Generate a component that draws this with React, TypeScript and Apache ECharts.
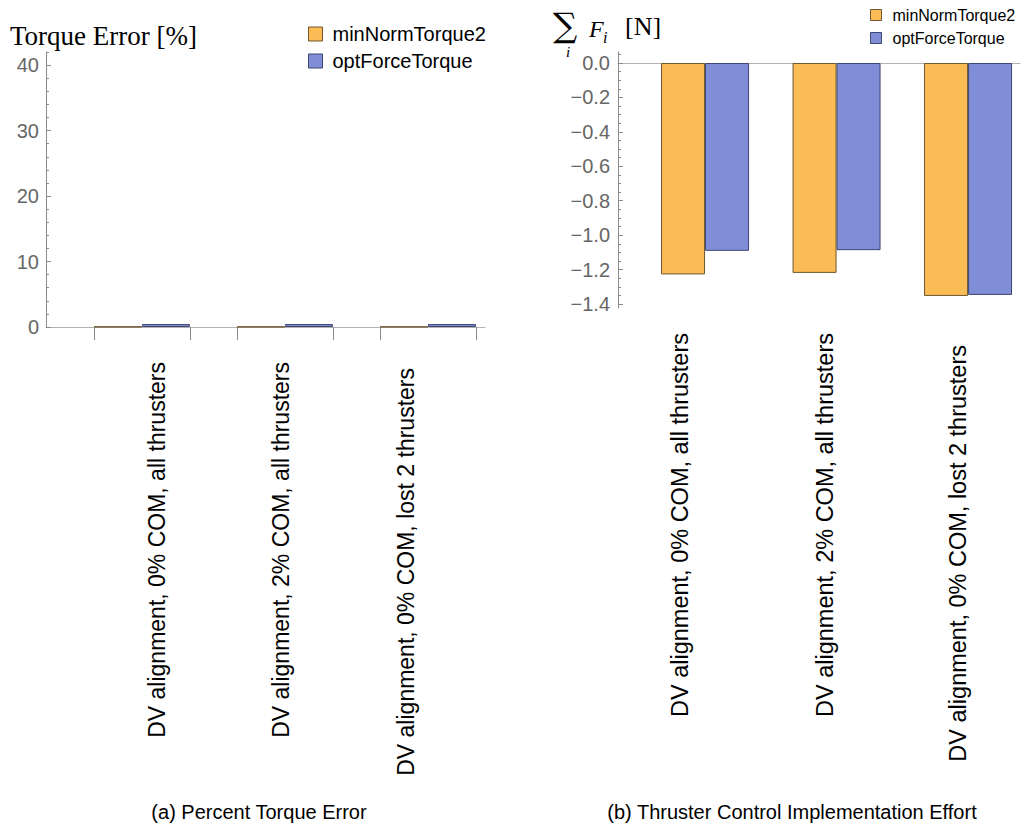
import React, { useEffect, useRef } from 'react';
import * as echarts from 'echarts';

// ---------- data ----------
const categories = [
  'DV alignment, 0% COM, all thrusters',
  'DV alignment, 2% COM, all thrusters',
  'DV alignment, 0% COM, lost 2 thrusters',
];
const seriesNames = ['minNormTorque2', 'optForceTorque'];
const torqueErrorMinNorm = [0.05, 0.05, 0.05];
const torqueErrorOptForce = [0.45, 0.45, 0.45];
const forceSumMinNorm = [-1.228, -1.219, -1.353];
const forceSumOptForce = [-1.091, -1.087, -1.347];
const leftYTickLabels = [0, 10, 20, 30, 40];
const leftYMinorTicks = [2, 4, 6, 8, 12, 14, 16, 18, 22, 24, 26, 28, 32, 34, 36, 38, 42];
const rightYTickLabels = [0, -0.2, -0.4, -0.6, -0.8, -1.0, -1.2, -1.4];
const rightYMinorTicks = [
  0.05, -0.05, -0.1, -0.15, -0.25, -0.3, -0.35, -0.45, -0.5, -0.55, -0.65, -0.7, -0.75,
  -0.85, -0.9, -0.95, -1.05, -1.1, -1.15, -1.25, -1.3, -1.35,
];

// ---------- layout constants ----------
const SANS = 'Liberation Sans, Arial, Helvetica, sans-serif';
const SERIF = 'Liberation Serif, Times New Roman, serif';
const ORANGE = '#FCBC55';
const ORANGE_EDGE = '#6E5730';
const BLUE = '#7F8ED6';
const BLUE_EDGE = '#3E4672';
const X_MIN_L = 0.329;
const X_MAX_L = 3.399;
const X_MIN_R = 0.338;
const X_MAX_R = 3.395;
const HALF_BAR = 0.3357; // bar width in group units
const leftLabelPos = [1.105, 1.972, 2.846];
const rightLabelPos = [0.81, 1.911, 2.924];
const leftLabelShift = [0, 0, 6];
const rightLabelShift = [0, 0, 12];

const nearestIndex = (arr: number[], v: number) => {
  let best = 0;
  let d = Infinity;
  arr.forEach((p, i) => {
    if (Math.abs(p - v) < d) {
      d = Math.abs(p - v);
      best = i;
    }
  });
  return best;
};

const toPairs = (vals: number[]) => vals.map((v, i) => [i + 1, v]);

const labelRich = (shift: number[], size: number) => {
  const rich: any = {};
  shift.forEach((s, i) => {
    rich['c' + i] = {
      fontSize: size,
      fontFamily: SANS,
      color: '#000',
      padding: [0, s, 0, 0],
    };
  });
  return rich;
};

export default function App() {
  const ref = useRef<HTMLDivElement>(null);

  useEffect(() => {
    if (!ref.current) return;
    const chart = echarts.init(ref.current, null, { renderer: 'svg' });

    const leftTickEdges: number[] = [];
    categories.forEach((_, i) => {
      leftTickEdges.push(i + 1 - HALF_BAR, i + 1 + HALF_BAR);
    });

    const grayAxis = '#8a8a8a';

    const option: any = {
      animation: false,
      backgroundColor: '#ffffff',
      grid: [
        { left: 46, right: 1023 - 485, top: 52, height: 275, containLabel: false },
        { left: 618, right: 3, top: 52, height: 256, containLabel: false },
      ],
      xAxis: [
        {
          type: 'value',
          gridIndex: 0,
          position: 'bottom',
          min: X_MIN_L,
          max: X_MAX_L,
          splitLine: { show: false },
          axisLine: { show: true, onZero: true, lineStyle: { color: '#b3b3b3', width: 1 } },
          axisTick: {
            show: true,
            inside: false,
            length: 13,
            customValues: leftTickEdges,
            lineStyle: { color: grayAxis, width: 1 },
          },
          axisLabel: {
            show: true,
            rotate: 90,
            margin: 35,
            customValues: leftLabelPos,
            formatter: (v: number) => {
              const i = nearestIndex(leftLabelPos, v);
              return `{c${i}|${categories[i]}}`;
            },
            rich: labelRich(leftLabelShift, 23),
            color: '#000',
            fontSize: 23,
            fontFamily: SANS,
          },
        },
        {
          type: 'value',
          gridIndex: 1,
          position: 'bottom',
          min: X_MIN_R,
          max: X_MAX_R,
          splitLine: { show: false },
          axisLine: { show: false, onZero: false },
          axisTick: { show: false },
          axisLabel: {
            show: true,
            rotate: 90,
            margin: 25,
            customValues: rightLabelPos,
            formatter: (v: number) => {
              const i = nearestIndex(rightLabelPos, v);
              return `{c${i}|${categories[i]}}`;
            },
            rich: labelRich(rightLabelShift, 23.5),
            color: '#000',
            fontSize: 23.5,
            fontFamily: SANS,
          },
        },
        {
          type: 'value',
          gridIndex: 1,
          position: 'bottom',
          min: X_MIN_R,
          max: X_MAX_R,
          splitLine: { show: false },
          axisLine: { show: true, onZero: true, onZeroAxisIndex: 2, lineStyle: { color: '#b3b3b3', width: 1 } },
          axisTick: { show: false },
          axisLabel: { show: false },
        },
      ],
      yAxis: [
        {
          type: 'value',
          gridIndex: 0,
          position: 'left',
          min: 0,
          max: 42,
          splitLine: { show: false },
          axisLine: { show: true, lineStyle: { color: grayAxis, width: 1 } },
          axisTick: { show: true, inside: true, length: 5, customValues: leftYTickLabels, lineStyle: { color: grayAxis } },
          axisLabel: {
            show: true,
            margin: 7,
            customValues: leftYTickLabels,
            color: '#666',
            fontSize: 20,
            fontFamily: SANS,
          },
        },
        {
          type: 'value',
          gridIndex: 0,
          position: 'left',
          offset: 0,
          min: 0,
          max: 42,
          splitLine: { show: false },
          axisLine: { show: false },
          axisTick: { show: true, inside: true, length: 3, customValues: leftYMinorTicks, lineStyle: { color: grayAxis } },
          axisLabel: { show: false },
        },
        {
          type: 'value',
          gridIndex: 1,
          position: 'left',
          min: -1.423,
          max: 0.064,
          splitLine: { show: false },
          axisLine: { show: true, lineStyle: { color: grayAxis, width: 1 } },
          axisTick: { show: true, inside: true, length: 5, customValues: rightYTickLabels, lineStyle: { color: grayAxis } },
          axisLabel: {
            show: true,
            margin: 8,
            customValues: rightYTickLabels,
            formatter: (v: number) => (Math.abs(v) < 1e-9 ? '0.0' : '\u2212' + Math.abs(v).toFixed(1)),
            color: '#666',
            fontSize: 20,
            fontFamily: SANS,
          },
        },
        {
          type: 'value',
          gridIndex: 1,
          position: 'left',
          offset: 0,
          min: -1.423,
          max: 0.064,
          splitLine: { show: false },
          axisLine: { show: false },
          axisTick: { show: true, inside: true, length: 3, customValues: rightYMinorTicks, lineStyle: { color: grayAxis } },
          axisLabel: { show: false },
        },
      ],
      legend: [
        {
          orient: 'vertical',
          left: 308,
          top: 24,
          padding: 0,
          itemWidth: 14,
          itemHeight: 14,
          itemGap: 7,
          icon: 'rect',
          selectedMode: false,
          data: seriesNames,
          itemStyle: { borderWidth: 1 },
          textStyle: { fontSize: 20, lineHeight: 20, color: '#000', fontFamily: SANS, padding: [0, 0, 0, 5] },
        },
        {
          orient: 'vertical',
          left: 870,
          top: 7,
          padding: 0,
          itemWidth: 11,
          itemHeight: 11,
          itemGap: 7,
          icon: 'rect',
          selectedMode: false,
          data: seriesNames,
          itemStyle: { borderWidth: 1 },
          textStyle: { fontSize: 16, lineHeight: 16, color: '#000', fontFamily: SANS, padding: [0, 0, 0, 6] },
        },
      ],
      series: [
        {
          name: seriesNames[0],
          type: 'bar',
          xAxisIndex: 0,
          yAxisIndex: 0,
          barWidth: 48,
          barGap: '0%',
          data: toPairs(torqueErrorMinNorm),
          itemStyle: { color: ORANGE, borderColor: ORANGE_EDGE, borderWidth: 1 },
        },
        {
          name: seriesNames[1],
          type: 'bar',
          xAxisIndex: 0,
          yAxisIndex: 0,
          barWidth: 48,
          barGap: '0%',
          data: toPairs(torqueErrorOptForce),
          itemStyle: { color: BLUE, borderColor: BLUE_EDGE, borderWidth: 1 },
        },
        {
          name: seriesNames[0],
          type: 'bar',
          xAxisIndex: 1,
          yAxisIndex: 2,
          barWidth: 44,
          barGap: '0%',
          data: toPairs(forceSumMinNorm),
          itemStyle: { color: ORANGE, borderColor: ORANGE_EDGE, borderWidth: 1 },
        },
        {
          name: seriesNames[1],
          type: 'bar',
          xAxisIndex: 1,
          yAxisIndex: 2,
          barWidth: 44,
          barGap: '0%',
          data: toPairs(forceSumOptForce),
          itemStyle: { color: BLUE, borderColor: BLUE_EDGE, borderWidth: 1 },
        },
      ],
      graphic: [
        {
          type: 'text',
          left: 10,
          top: 22,
          style: { text: 'Torque Error [%]', font: `27px ${SERIF}`, fill: '#000' },
        },
        {
          type: 'text',
          x: 553,
          y: 8,
          style: { text: '\u2211', font: `34px DejaVu Serif, ${SERIF}`, fill: '#000' },
        },
        {
          type: 'text',
          x: 566,
          y: 44,
          style: { text: 'i', font: `italic 15px ${SERIF}`, fill: '#000' },
        },
        {
          type: 'text',
          x: 589,
          y: 17,
          style: { text: 'F', font: `italic 24px ${SERIF}`, fill: '#000' },
        },
        {
          type: 'text',
          x: 603,
          y: 29,
          style: { text: 'i', font: `italic 16px ${SERIF}`, fill: '#000' },
        },
        {
          type: 'text',
          x: 625,
          y: 13,
          style: { text: '[N]', font: `26px ${SERIF}`, fill: '#000' },
        },
        {
          type: 'text',
          x: 259,
          y: 812,
          style: {
            text: '(a) Percent Torque Error',
            font: `20px ${SANS}`,
            fill: '#000',
            align: 'center',
            verticalAlign: 'middle',
          },
        },
        {
          type: 'text',
          x: 792,
          y: 812,
          style: {
            text: '(b) Thruster Control Implementation Effort',
            font: `20px ${SANS}`,
            fill: '#000',
            align: 'center',
            verticalAlign: 'middle',
          },
        },
      ],
    };

    chart.setOption(option);
    return () => {
      chart.dispose();
    };
  }, []);

  return (
    <div
      ref={ref}
      style={{ position: 'fixed', left: 0, top: 0, width: 1023, height: 826, background: '#fff' }}
    />
  );
}
